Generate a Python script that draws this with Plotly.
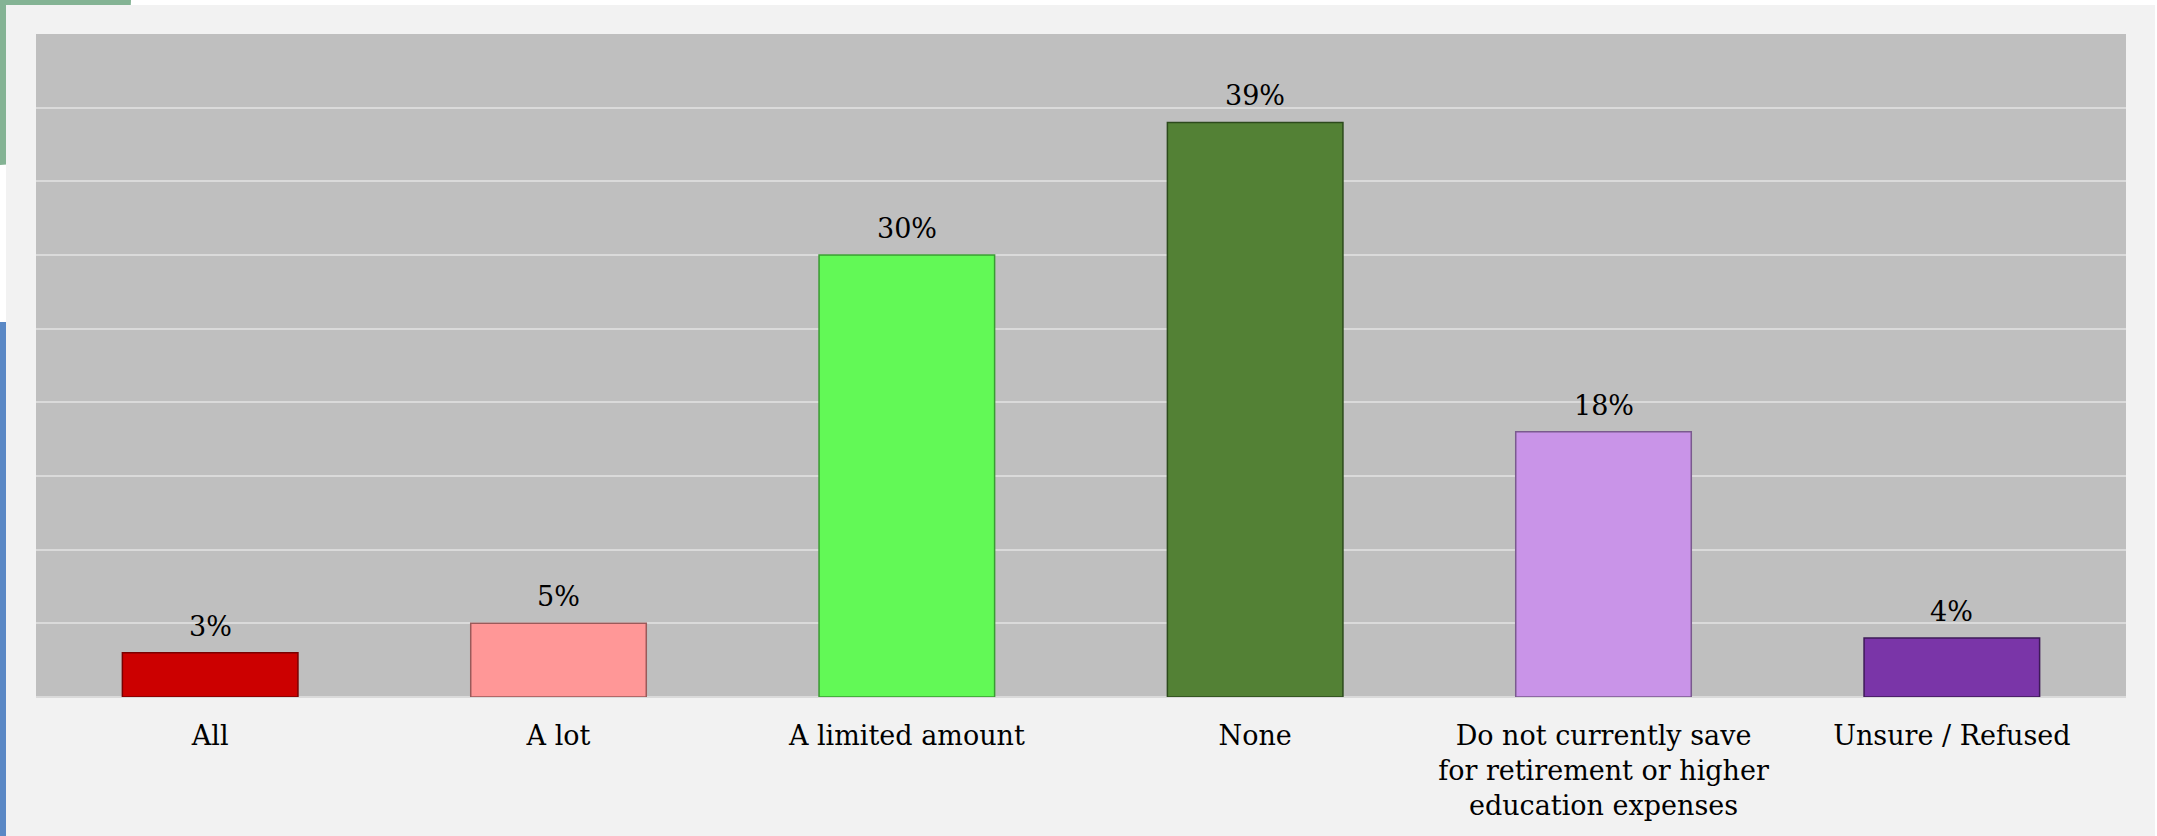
import plotly.graph_objects as go

categories = ["All", "A lot", "A limited amount", "None",
              "Do not currently save<br>for retirement or higher<br>education expenses",
              "Unsure / Refused"]
values = [0.03, 0.05, 0.30, 0.39, 0.18, 0.04]
labels = ["3%", "5%", "30%", "39%", "18%", "4%"]
bar_colors = ["#cc0000", "#ff9797", "#62f956", "#538135", "#c994e8", "#7a35a8"]
edge_colors = ["#7a0000", "#9a5a5a", "#3a9a33", "#2c4a1c", "#7a5a8e", "#3e1a58"]
y_ticks = [0, 0.05, 0.10, 0.15, 0.20, 0.25, 0.30, 0.35, 0.40, 0.45]

W, H = 2157, 836
L, R, T, B = 36, 31, 34, 139
pw, ph = W - L - R, H - T - B

def px_x(p):
    return (p - L) / pw

def px_y(p):
    return (H - B - p) / ph

FONT = "DejaVu Serif, Georgia, serif"
FS = 27

fig = go.Figure(go.Bar(
    x=categories, y=values,
    marker=dict(color=bar_colors, line=dict(color=edge_colors, width=1.5)),
))

annotations = [
    dict(x=c, y=v, text=t, xref="x", yref="y", showarrow=False,
         yanchor="bottom", yshift=9,
         font=dict(family=FONT, size=FS, color="#000000"))
    for c, v, t in zip(categories, values, labels)
]

shapes = [
    # decorative green disc peeking at the top-left corner
    dict(type="circle", xref="paper", yref="paper", layer="below",
         x0=px_x(-131), x1=px_x(131), y0=px_y(165), y1=px_y(-165),
         fillcolor="#84b394", line=dict(width=0)),
    # decorative blue strip at the left edge
    dict(type="rect", xref="paper", yref="paper", layer="below",
         x0=px_x(0), x1=px_x(20), y0=px_y(836), y1=px_y(322),
         fillcolor="#5a88c5", line=dict(width=0)),
    # light grey panel
    dict(type="rect", xref="paper", yref="paper", layer="below",
         x0=px_x(6), x1=px_x(2155), y0=px_y(840), y1=px_y(5),
         fillcolor="#f2f2f2", line=dict(width=0)),
    # plot area
    dict(type="rect", xref="paper", yref="paper", layer="below",
         x0=0, x1=1, y0=0, y1=1,
         fillcolor="#bfbfbf", line=dict(width=0)),
]

fig.update_layout(
    width=W, height=H,
    margin=dict(l=L, r=R, t=T, b=B, autoexpand=False),
    paper_bgcolor="#ffffff",
    plot_bgcolor="rgba(0,0,0,0)",
    bargap=0.496,
    showlegend=False,
    shapes=shapes,
    annotations=annotations,
    font=dict(family=FONT, size=FS, color="#000000"),
)
fig.update_xaxes(
    showgrid=False, showline=False, ticks="", automargin=False,
    tickfont=dict(family=FONT, size=FS, color="#000000"),
    ticklabelstandoff=20,
)
fig.update_yaxes(
    range=[0, 0.45], tickvals=y_ticks, showticklabels=False,
    showgrid=True, gridcolor="#dadada", gridwidth=2,
    zeroline=True, zerolinecolor="#dadada", zerolinewidth=2,
    showline=False, ticks="", automargin=False,
)

fig.write_html(
    "out.html",
    config={"displayModeBar": False},
    post_script="document.body.style.margin='0';document.body.style.overflow='hidden';",
)
